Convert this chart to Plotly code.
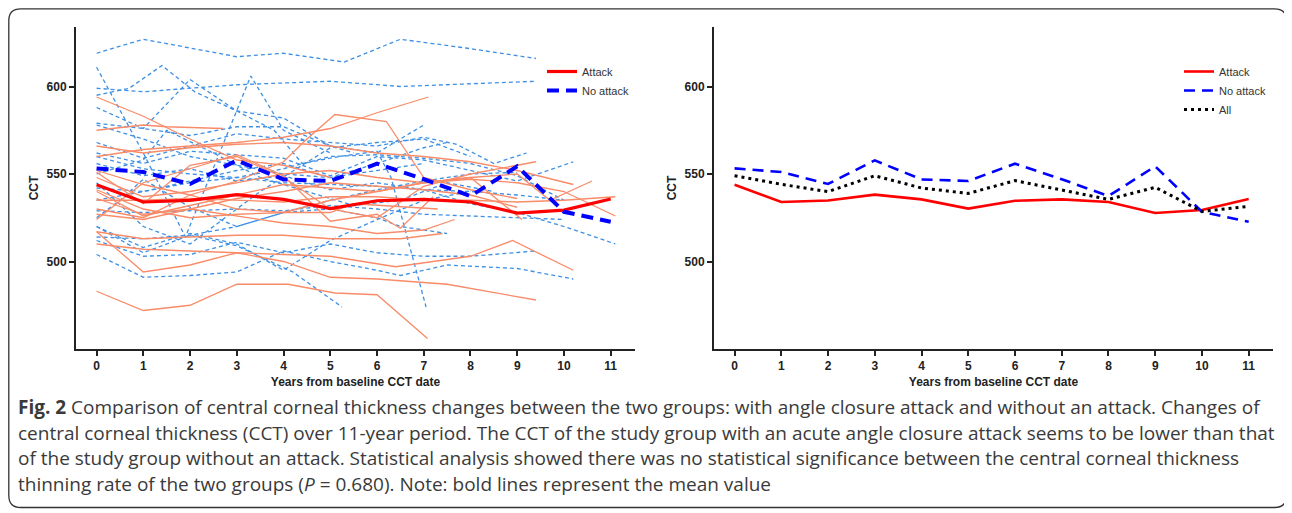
import plotly.graph_objects as go

# ---------------- data ----------------
years = [0, 1, 2, 3, 4, 5, 6, 7, 8, 9, 10, 11]
attack_mean = [543.9, 534.0, 534.9, 538.2, 535.5, 530.2, 534.7, 535.5, 534.0, 527.7, 529.4, 535.7]
noattack_mean = [553.2, 551.1, 544.3, 557.8, 546.9, 546.0, 555.9, 547.0, 537.4, 554.4, 528.4, 522.7]
all_mean = [549.0, 544.1, 539.9, 549.0, 542.0, 538.9, 546.2, 541.0, 535.5, 542.4, 528.6, 531.5]

# individual patients without attack (years, CCT)
noattack_x = [
    [0, 1, 3, 4, 5.3, 6.5, 7.9, 9.4],
    [0, 1, 3, 5, 6.5, 9.4],
    [0, 1, 1.9, 3.3, 4, 5],
    [0, 0.7, 1.4, 2.1, 3, 4, 5, 5.5],
    [0, 1, 2, 3, 3.8, 4.4, 5.2, 6, 6.3, 7.05],
    [0, 1, 2, 3, 4, 5, 6, 7],
    [0, 1, 2, 3, 4, 5, 6, 7, 7.7, 8.5, 9.2],
    [0, 1, 2, 3, 4, 5, 6, 7, 8, 9, 10.2],
    [0, 1, 2, 3, 4, 5, 6, 7, 8, 9, 10, 11.1],
    [0, 1, 2, 3, 4, 5, 6, 6.5, 7.5, 9, 10.2],
    [0, 1, 2, 3, 4, 5, 6, 7, 8, 9.4],
    [0, 1, 2, 3, 4, 5, 6, 7, 8, 9, 10],
    [0, 1, 2, 3, 4, 5, 6, 7, 8, 9, 10],
    [0, 0.5, 1, 2, 3, 4, 5, 6, 6.5, 7.5],
    [0, 1, 2, 3, 4, 5, 6, 7, 8, 9],
    [0, 1, 1.5, 2.5, 3.5, 4.5, 5.5, 6.5, 7.5, 8.5],
    [0, 1, 2, 3, 4, 5, 6, 7, 7.5],
    [0, 1, 2, 3, 4, 5, 6, 7, 8],
    [0, 1, 2, 3, 3.5, 5, 6, 7, 8],
    [0, 1, 2, 3, 4, 5, 6, 7],
    [0, 1, 2, 3, 4, 5, 6, 7, 8, 9, 10],
    [0, 1, 2, 3, 4.2, 5.25],
]
noattack_y = [
    [619, 627, 617, 619, 614, 627, 622, 616],
    [599, 597, 601, 603, 600, 603],
    [611, 562, 514, 606, 575, 562],
    [595, 599, 612, 597, 586, 582, 566, 562],
    [588, 576, 604, 586, 575, 556, 560, 563, 548, 474],
    [579, 576, 572, 577, 577, 566, 562, 578],
    [568, 559, 566, 573, 570, 568, 566, 571, 567, 556, 562],
    [562, 556, 563, 561, 559, 549, 560, 558, 552, 546, 557],
    [556, 549, 553, 546, 549, 541, 545, 541, 533, 528, 520, 510],
    [504, 491, 492, 494, 506, 500, 495, 492, 498, 496, 490],
    [512, 503, 504, 511, 505, 510, 505, 503, 503, 506],
    [529, 528, 529, 530, 529, 532, 530, 527, 526, 525, 524],
    [542, 540, 545, 548, 553, 560, 561, 559, 556, 549, 535],
    [525, 535, 547, 531, 520, 528, 530, 525, 520, 516],
    [514, 513, 515, 520, 528, 535, 541, 546, 550, 551],
    [550, 558, 575, 562, 548, 540, 532, 535, 545, 540],
    [535, 540, 546, 552, 556, 548, 556, 565, 568],
    [520, 508, 516, 510, 495, 512, 524, 535, 540],
    [545, 520, 510, 530, 540, 565, 568, 570, 560],
    [578, 570, 560, 555, 550, 548, 552, 556],
    [560, 553, 550, 548, 545, 544, 543, 541, 540, 538, 535],
    [520, 505, 515, 509, 494, 474],
]

# individual patients with attack (years, CCT)
attack_x = [
    [0, 1, 2, 3, 4, 5],
    [0, 1, 1.5, 2.7],
    [0, 1, 2, 3, 4, 5, 6, 7.1],
    [0, 1, 2, 3, 4, 4.5, 5.1, 6.2, 7, 8, 9],
    [0, 1, 2, 3, 4.1, 5.1, 6, 7.08],
    [0, 1, 2, 3, 4, 5, 6, 7.5, 9.4],
    [0, 1, 2, 3, 4, 5, 6.4, 8, 8.9, 10.2],
    [0, 1, 2, 3, 4, 5, 6, 7, 7.66],
    [0, 1, 2, 3, 4, 5, 6, 6.5, 7.4],
    [0, 1, 2, 3, 4, 5, 6, 7, 8, 9.1],
    [0, 1, 2, 3, 4, 5, 6, 7, 8, 9, 10, 11.1],
    [0, 1, 2, 3, 4, 5, 6, 7, 8, 9, 9.7, 10.6],
    [0, 1, 2, 3, 4, 5, 6, 7, 8, 9, 10.2],
    [0, 1, 2, 3, 4, 5, 6, 7, 8, 9.4],
    [0, 1, 2, 3, 4, 5, 6, 6.5, 7.2],
    [0, 1, 2, 3, 4, 5, 6, 7, 8, 9, 10, 11.1],
    [0, 1, 2, 3, 4, 5, 6, 7, 8, 9],
    [0, 1, 2, 3, 4, 5, 5.5, 7.3],
]
attack_y = [
    [594, 583, 570, 558, 555, 548],
    [575, 578, 577, 576],
    [560, 564, 566, 568, 571, 576, 585, 594],
    [530, 525, 538, 546, 557, 570, 584, 580, 548, 541, 536],
    [483, 472, 475, 487, 487, 482, 481, 456],
    [510, 507, 506, 505, 500, 491, 490, 487, 478],
    [517, 494, 498, 505, 504, 503, 497, 503, 512, 495],
    [536, 527, 530, 526, 522, 520, 516, 518, 524],
    [517, 513, 514, 515, 515, 513, 513, 513, 516],
    [540, 526, 532, 538, 544, 542, 540, 545, 548, 524],
    [548, 537, 540, 545, 550, 552, 548, 545, 547, 545, 540, 526],
    [552, 544, 538, 530, 528, 535, 540, 545, 548, 550, 535, 546],
    [566, 562, 565, 567, 568, 566, 562, 560, 557, 552, 544],
    [551, 533, 555, 560, 548, 530, 525, 543, 550, 557],
    [524, 545, 553, 561, 549, 523, 527, 519, 537],
    [535, 535, 536, 535, 534, 537, 537, 535, 535, 534, 535, 537],
    [527, 524, 530, 536, 540, 545, 543, 541, 538, 531],
    [541, 530, 525, 527, 528, 528, 533, 530],
]

y_ticks = [500, 550, 600]

caption_lines = [
    "<b>Fig. 2</b> Comparison of central corneal thickness changes between the two groups: with angle closure attack and without an attack. Changes of",
    "central corneal thickness (CCT) over 11-year period. The CCT of the study group with an acute angle closure attack seems to be lower than that",
    "of the study group without an attack. Statistical analysis showed there was no statistical significance between the central corneal thickness",
    "thinning rate of the two groups (<i>P</i> = 0.680). Note: bold lines represent the mean value",
]

# ---------------- figure ----------------
# the page body adds an 8px margin, so the figure is laid out in page pixels minus 8
OFF = 8
W, H = 1292 - OFF, 513 - OFF
px = lambda v: (v - OFF) / W
py = lambda v: 1 - (v - OFF) / H

fig = go.Figure()

for xs, ys in zip(noattack_x, noattack_y):
    fig.add_trace(go.Scatter(x=xs, y=ys, mode="lines", showlegend=False, hoverinfo="skip",
                             line=dict(color="#3E90E4", width=1.3, dash="4px,3px"),
                             xaxis="x", yaxis="y"))
for xs, ys in zip(attack_x, attack_y):
    fig.add_trace(go.Scatter(x=xs, y=ys, mode="lines", showlegend=False, hoverinfo="skip",
                             line=dict(color="#F98B68", width=1.3),
                             xaxis="x", yaxis="y"))

fig.add_trace(go.Scatter(x=years, y=attack_mean, mode="lines", name="Attack",
                         line=dict(color="#FF0000", width=3.2), xaxis="x", yaxis="y", legend="legend"))
fig.add_trace(go.Scatter(x=years, y=noattack_mean, mode="lines", name="No attack",
                         line=dict(color="#0000FF", width=4, dash="12px,7px"), xaxis="x", yaxis="y", legend="legend"))

fig.add_trace(go.Scatter(x=years, y=attack_mean, mode="lines", name="Attack",
                         line=dict(color="#FF0000", width=2.6), xaxis="x2", yaxis="y2", legend="legend2"))
fig.add_trace(go.Scatter(x=years, y=noattack_mean, mode="lines", name="No attack",
                         line=dict(color="#0000FF", width=2.6, dash="11px,7px"), xaxis="x2", yaxis="y2", legend="legend2"))
fig.add_trace(go.Scatter(x=years, y=all_mean, mode="lines", name="All",
                         line=dict(color="#000000", width=3, dash="3px,4px"), xaxis="x2", yaxis="y2", legend="legend2"))

axis_font = dict(family="Liberation Sans, Arial", size=12, color="#222222")
title_font = dict(family="Liberation Sans, Arial", size=12, color="#222222")

def xax(domain, anchor):
    return dict(domain=domain, anchor=anchor, range=[-0.44, 11.52], tickmode="array",
                tickvals=years, ticktext=[f"<b>{v}</b>" for v in years],
                ticks="outside", ticklen=5, tickwidth=1.5, tickcolor="#222",
                showline=True, linecolor="#222", linewidth=2, showgrid=False, zeroline=False,
                tickfont=axis_font,
                title=dict(text="<b>Years from baseline CCT date</b>", font=title_font, standoff=5))

def yax(domain, anchor):
    return dict(domain=domain, anchor=anchor, range=[450, 634], tickmode="array",
                tickvals=y_ticks, ticktext=[f"<b>{v}</b>" for v in y_ticks],
                ticks="outside", ticklen=5, tickwidth=1.5, tickcolor="#222",
                showline=True, linecolor="#222", linewidth=2, showgrid=False, zeroline=False,
                tickfont=axis_font,
                title=dict(text="<b>CCT</b>", font=title_font, standoff=5))

ydom = [py(349), py(27)]
fig.update_layout(
    width=W, height=H,
    margin=dict(l=0, r=0, t=0, b=0, pad=0),
    paper_bgcolor="white", plot_bgcolor="white",
    xaxis=xax([px(76), px(635)], "y"),
    yaxis=yax(ydom, "x"),
    xaxis2=xax([px(714), px(1273)], "y2"),
    yaxis2=yax(ydom, "x2"),
    legend=dict(x=px(542), y=py(57), xanchor="left", yanchor="top",
                font=dict(family="Liberation Sans, Arial", size=11, color="#333"),
                bgcolor="rgba(0,0,0,0)", itemwidth=30, tracegroupgap=0),
    legend2=dict(x=px(1179), y=py(57), xanchor="left", yanchor="top",
                 font=dict(family="Liberation Sans, Arial", size=11, color="#333"),
                 bgcolor="rgba(0,0,0,0)", itemwidth=30, tracegroupgap=0),
    showlegend=True,
)

# rounded frame around the figure + caption
x0, x1, y0, y1, r = 8.8, 1286.5, 8.8, 507.5, 12
path = (f"M {px(x0 + r)} {py(y0)} L {px(x1 - r)} {py(y0)} Q {px(x1)} {py(y0)} {px(x1)} {py(y0 + r)} "
        f"L {px(x1)} {py(y1 - r)} Q {px(x1)} {py(y1)} {px(x1 - r)} {py(y1)} "
        f"L {px(x0 + r)} {py(y1)} Q {px(x0)} {py(y1)} {px(x0)} {py(y1 - r)} "
        f"L {px(x0)} {py(y0 + r)} Q {px(x0)} {py(y0)} {px(x0 + r)} {py(y0)} Z")
fig.add_shape(type="path", path=path, xref="paper", yref="paper",
              line=dict(color="#333333", width=1.3), fillcolor="rgba(0,0,0,0)", layer="below")

cap_y = [407, 432.5, 458, 484]
for txt, yy in zip(caption_lines, cap_y):
    fig.add_annotation(text=txt, x=px(16), y=py(yy), xref="paper", yref="paper",
                       xanchor="left", yanchor="middle", showarrow=False, align="left",
                       font=dict(family="Open Sans", size=19, color="#3a3a3a"))

fig.write_html("out.html")
